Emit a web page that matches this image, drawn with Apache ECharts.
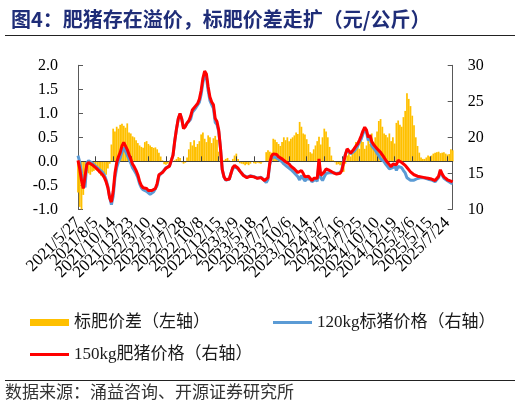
<!DOCTYPE html>
<html><head><meta charset="utf-8">
<script src="https://cdn.jsdelivr.net/npm/echarts@6/dist/echarts.min.js"></script>
<style>html,body{margin:0;padding:0;background:#fff}#c{width:520px;height:406px}</style>
</head><body><div id="c"></div>
<script>
const tickLabels = ['2021/5/27','2021/8/5','2021/10/14','2021/12/23','2022/3/10','2022/5/19','2022/7/28','2022/10/8','2022/12/15','2023/3/9','2023/5/18','2023/7/27','2023/10/6','2023/12/14','2024/3/7','2024/5/16','2024/7/25','2024/10/10','2024/12/19','2025/3/6','2025/5/15','2025/7/24'];

const spread = [
-0.65,-0.95,-1.0,-0.7,-0.4,-0.2,-0.25,-0.28,-0.22,-0.2,
-0.18,-0.2,-0.25,-0.3,-0.32,-0.35,-0.28,-0.15,-0.05,0.35,
0.68,0.62,0.72,0.68,0.76,0.78,0.74,0.7,0.79,0.6,
0.58,0.52,0.5,0.44,0.38,0.33,0.3,0.28,0.4,0.42,
0.36,0.33,0.3,0.28,0.29,0.25,0.18,0.1,0.02,-0.06,
-0.07,-0.05,-0.02,0,0.01,0.02,0.05,0.09,0.07,-0.02,
-0.05,-0.03,0.08,0.25,0.4,0.33,0.44,0.3,0.36,0.42,
0.56,0.6,0.47,0.4,0.54,0.5,0.38,0.48,0.53,0.45,
0.2,-0.01,0,0.02,0.05,0.07,0.02,-0.01,0.05,0.12,
0.16,0.05,-0.04,-0.05,-0.06,-0.08,-0.06,-0.08,-0.05,-0.01,
-0.04,-0.05,-0.03,-0.04,-0.05,-0.02,-0.01,0.19,0.23,0.2,
0.18,0.47,0.45,0.4,0.36,0.32,0.4,0.5,0.44,0.5,
0.42,0.47,0.5,0.54,0.6,0.57,0.82,0.72,0.58,0.56,
0.46,0.36,0.19,0.16,0.25,0.33,0.42,0.51,0.35,0.5,
0.68,0.62,0.5,0.3,0.12,0.02,-0.02,-0.07,-0.06,-0.08,
-0.15,-0.22,-0.05,0.12,0.19,0.1,0.18,0.3,0.4,0.3,
0.26,0.43,0.4,0.26,0.33,0.44,0.36,0.58,0.4,0.5,
0.62,0.84,0.88,0.72,0.58,0.55,0.5,0.58,0.42,0.5,
0.37,0.8,0.85,0.76,0.72,0.92,1.05,1.42,1.3,1.15,
0.95,0.75,0.5,0.32,0.18,0.08,0.05,0.05,0.08,0.12,
0.1,0.12,0.16,0.18,0.19,0.2,0.17,0.18,0.19,0.16,
0.14,0.15,0.25,0.23];

const price120 = [
17.45,16.55,15.0,13.6,13.05,16.4,16.75,16.63,16.42,16.3,
15.98,15.8,15.55,15.4,15.12,14.75,14.08,13.15,11.65,10.65,
11.82,14.38,15.78,16.62,17.14,18.02,18.56,18.5,17.51,17.0,
16.42,15.78,15.4,14.96,14.42,13.57,13.0,12.72,12.5,12.48,
12.24,12.07,12.3,12.42,12.61,13.35,14.62,14.9,15.08,15.46,
15.77,15.95,16.02,16.2,17.49,19.48,21.15,22.51,23.23,22.52,
21.25,21.53,21.92,22.05,22.5,23.47,23.56,24.1,24.34,24.88,
25.94,27.6,28.73,28.4,26.46,25.1,24.52,24.02,22.07,21.75,
20.8,18.51,15.5,14.48,14.05,13.93,14.18,15.01,15.75,15.98,
15.84,15.65,15.34,15.05,14.76,14.68,14.46,14.38,14.65,14.71,
14.54,14.45,14.33,14.54,14.45,14.22,14.01,13.71,14.17,16.2,
17.22,17.23,17.25,17.2,16.94,16.78,16.6,16.3,16.16,15.9,
15.88,15.53,15.4,15.06,14.8,14.53,14.08,14.68,14.42,13.94,
14.24,14.24,14.21,13.84,14.05,14.17,13.88,16.49,14.35,14.0,
14.52,14.98,15.0,15.1,15.08,15.08,14.97,14.97,14.86,15.08,
15.55,16.72,17.65,18.28,18.41,17.7,17.82,18.1,18.4,18.8,
19.34,19.77,20.5,21.14,20.67,19.56,19.94,18.82,18.6,18.2,
17.78,17.46,17.02,16.98,16.62,16.25,16.0,15.62,15.48,15.8,
16.13,15.4,15.95,15.94,15.78,15.38,15.05,14.38,14.3,14.05,
14.05,14.05,14.2,14.28,14.32,14.42,14.45,14.35,14.27,14.18,
14.15,14.08,13.84,13.82,13.91,14.4,15.33,14.72,14.31,14.14,
13.96,13.85,13.65,13.57];

const price150 = [
16.8,15.6,14.0,12.9,12.65,16.2,16.5,16.35,16.2,16.1,
15.8,15.6,15.3,15.1,14.8,14.4,13.8,13.0,11.6,11.0,
12.5,15.0,16.5,17.3,17.9,18.8,19.3,19.2,18.3,17.6,
17.0,16.3,15.9,15.4,14.8,13.9,13.3,13.0,12.9,12.9,
12.6,12.4,12.6,12.7,12.9,13.6,14.8,15.0,15.1,15.4,
15.7,15.9,16.0,16.2,17.5,19.5,21.2,22.6,23.3,22.5,
21.2,21.5,22.0,22.3,22.9,23.8,24.0,24.4,24.7,25.3,
26.5,28.2,29.2,28.8,27.0,25.6,24.9,24.5,22.6,22.2,
21.0,18.5,15.5,14.5,14.1,14.0,14.2,15.0,15.8,16.1,
16.0,15.7,15.3,15.0,14.7,14.6,14.4,14.3,14.6,14.7,
14.5,14.4,14.3,14.5,14.4,14.2,14.0,13.9,14.4,16.4,
17.4,17.7,17.7,17.6,17.3,17.1,17.0,16.8,16.6,16.4,
16.3,16.0,15.9,15.6,15.4,15.1,14.9,15.4,15.0,14.5,
14.7,14.6,14.4,14.0,14.3,14.5,14.3,17.0,14.7,14.5,
15.2,15.6,15.5,15.4,15.2,15.1,14.95,14.9,14.8,15.0,
15.4,16.5,17.6,18.4,18.6,17.8,18.0,18.4,18.8,19.1,
19.6,20.2,20.9,21.4,21.0,20.0,20.3,19.4,19.0,18.7,
18.4,18.3,17.9,17.7,17.2,16.8,16.5,16.2,15.9,16.3,
16.5,16.2,16.8,16.7,16.5,16.3,16.1,15.8,15.6,15.2,
15.0,14.8,14.7,14.6,14.5,14.5,14.5,14.4,14.35,14.3,
14.25,14.2,14.0,14.0,14.1,14.6,15.5,14.9,14.5,14.3,
14.1,14.0,13.9,13.8];

const seriesNames = ['标肥价差（左轴）','120kg标猪价格（右轴）','150kg肥猪价格（右轴）'];
const categories = price150.map((_, i) => i % 10 === 0 ? tickLabels[i / 10] : 'w' + i);

const SERIF = "'Liberation Serif','Times New Roman','Noto Sans CJK SC',serif";
const legendText = {fontSize:17, color:'#1a1a1a', fontFamily:SERIF};
const axisColor = '#595959';

const chart = echarts.init(document.getElementById('c'), null, {renderer:'canvas'});
chart.setOption({
  animation:false,
  backgroundColor:'#fff',
  title:{text:'图4：肥猪存在溢价，标肥价差走扩（元/公斤）', left:6, top:4,
    textStyle:{fontSize:20, fontWeight:'bold', color:'#1F2D78', fontFamily:"'Noto Sans CJK SC',sans-serif"}},
  grid:{left:78, right:67.3, top:65.3, bottom:196.7, containLabel:false},
  legend:[
    {data:[{name:seriesNames[0], icon:'rect'}], left:25, top:309, itemWidth:39, itemHeight:7, itemGap:5, textStyle:legendText},
    {data:[{name:seriesNames[1], icon:'rect'}], left:268, top:309, itemWidth:39, itemHeight:3, textStyle:legendText},
    {data:[{name:seriesNames[2], icon:'rect'}], left:25, top:341, itemWidth:39, itemHeight:3, textStyle:legendText}
  ],
  xAxis:[
    {type:'category', data:categories, boundaryGap:false, position:'bottom',
      axisLine:{show:false, onZero:false}, axisTick:{show:false}, splitLine:{show:false},
      axisLabel:{interval:0, hideOverlap:false,
        formatter:(val, idx) => idx % 10 === 0 ? val : '',
        rotate:45, margin:11, fontSize:17, color:'#000', fontFamily:SERIF}},
    {type:'category', data:categories, boundaryGap:false, position:'top', z:1.5,
      axisLine:{show:true, onZero:true, onZeroAxisIndex:0, lineStyle:{color:'#404040', width:1}},
      axisTick:{show:true, interval:(idx) => idx % 10 === 0, inside:false, length:5, lineStyle:{color:'#404040'}},
      axisLabel:{show:false}, splitLine:{show:false}}
  ],
  yAxis:[
    {type:'value', min:-1, max:2, interval:0.5, position:'left',
      axisLine:{show:true, lineStyle:{color:axisColor}},
      axisTick:{show:true, inside:true, length:5, lineStyle:{color:axisColor}},
      axisLabel:{formatter:v => v.toFixed(1), fontSize:16, color:'#000', margin:20, fontFamily:SERIF},
      splitLine:{show:false}},
    {type:'value', min:10, max:30, interval:5, position:'right',
      axisLine:{show:true, lineStyle:{color:axisColor}},
      axisTick:{show:true, inside:true, length:5, lineStyle:{color:axisColor}},
      axisLabel:{fontSize:16, color:'#000', margin:15, fontFamily:SERIF},
      splitLine:{show:false}}
  ],
  series:[
    {name:seriesNames[0], type:'bar', data:spread, xAxisIndex:0, yAxisIndex:0, z:1,
      barCategoryGap:'0%', itemStyle:{color:'#FFC000'}},
    {name:seriesNames[1], type:'line', data:price120, xAxisIndex:0, yAxisIndex:1, z:2,
      showSymbol:false, symbol:'none', lineStyle:{color:'#5B9BD5', width:3}, itemStyle:{color:'#5B9BD5'}},
    {name:seriesNames[2], type:'line', data:price150, xAxisIndex:0, yAxisIndex:1, z:3,
      showSymbol:false, symbol:'none', lineStyle:{color:'#FF0000', width:3}, itemStyle:{color:'#FF0000'}}
  ],
  graphic:[
    {type:'line', shape:{x1:5, y1:35.5, x2:515, y2:35.5}, style:{stroke:'#222', lineWidth:1}},
    {type:'line', shape:{x1:5, y1:380.5, x2:515, y2:380.5}, style:{stroke:'#222', lineWidth:1}},
    {type:'text', left:5, top:383, style:{text:'数据来源：涌益咨询、开源证券研究所', fontSize:17, fill:'#333', fontFamily:"'Noto Sans CJK SC',sans-serif"}}
  ]
});
</script></body></html>
